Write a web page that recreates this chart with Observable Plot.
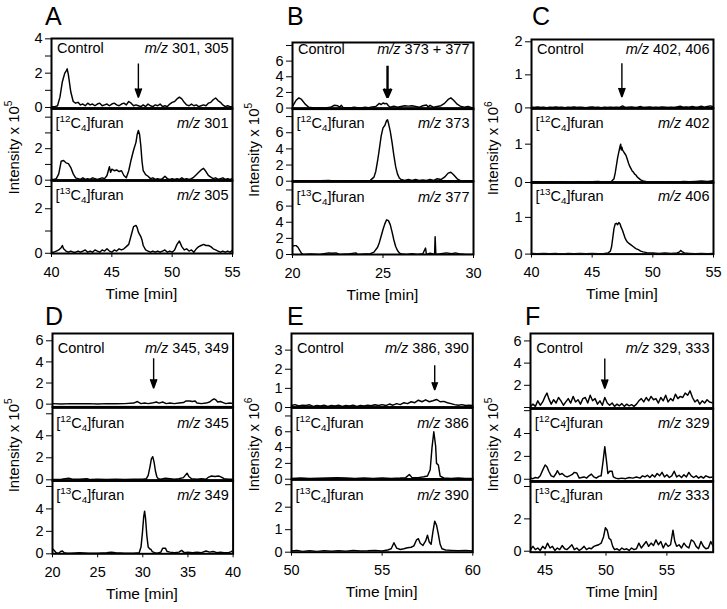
<!DOCTYPE html>
<html><head><meta charset="utf-8">
<script src="https://cdn.jsdelivr.net/npm/d3@7"></script>
<script src="https://cdn.jsdelivr.net/npm/@observablehq/plot@0.6"></script>
<style>
body{margin:0;background:#fff}
#fig{position:relative;width:727px;height:609px;overflow:hidden;background:#fff}
#fig svg{position:absolute}
</style></head><body><div id="fig"></div>
<script>
// ---- data: [time (min), intensity] ----
const A_control = [[40.0,0.05],[40.3,0.05],[40.5,0.1],[40.7,0.6],[40.9,1.5],[41.1,2.0],[41.2,2.1],[41.3,2.25],[41.4,1.9],[41.6,0.9],[41.8,0.35],[42.0,0.25],[42.2,0.3],[42.4,0.15],[42.6,0.2],[42.8,0.1],[43.0,0.25],[43.2,0.15],[43.4,0.2],[43.6,0.1],[43.8,0.2],[44.0,0.25],[44.2,0.1],[44.4,0.15],[44.6,0.2],[44.8,0.1],[45.0,0.2],[45.2,0.25],[45.4,0.15],[45.6,0.1],[45.8,0.2],[46.0,0.25],[46.2,0.15],[46.4,0.35],[46.6,0.25],[46.8,0.1],[47.0,0.15],[47.2,0.1],[47.4,0.05],[47.6,0.15],[47.8,0.05],[48.0,0.2],[48.2,0.1],[48.4,0.05],[48.6,0.15],[48.8,0.1],[49.0,0.2],[49.2,0.05],[49.4,0.1],[49.6,0.05],[49.8,0.2],[50.0,0.3],[50.2,0.35],[50.4,0.5],[50.6,0.6],[50.8,0.5],[51.0,0.3],[51.2,0.15],[51.4,0.1],[51.6,0.2],[51.8,0.1],[52.0,0.15],[52.2,0.05],[52.4,0.1],[52.6,0.15],[52.8,0.1],[53.0,0.25],[53.2,0.3],[53.4,0.45],[53.6,0.55],[53.8,0.4],[54.0,0.3],[54.2,0.15],[54.4,0.05],[54.6,0.1],[54.8,0.05],[55.0,0.05]];
const A_12C = [[40.0,0.05],[40.2,0.05],[40.4,0.1],[40.6,0.4],[40.8,1.2],[41.0,1.25],[41.2,1.1],[41.4,1.05],[41.6,0.8],[41.8,0.4],[42.0,0.15],[42.2,0.1],[42.4,0.05],[42.6,0.15],[42.8,0.05],[43.0,0.1],[43.2,0.05],[43.4,0.15],[43.6,0.1],[43.8,0.05],[44.0,0.1],[44.2,0.15],[44.4,0.1],[44.6,0.3],[44.8,0.85],[44.9,0.5],[45.0,0.7],[45.2,0.6],[45.4,0.65],[45.6,0.55],[45.8,0.6],[46.0,0.3],[46.2,0.15],[46.4,0.6],[46.6,1.3],[46.8,1.9],[47.0,2.4],[47.1,2.9],[47.2,3.15],[47.3,2.9],[47.4,2.2],[47.5,1.2],[47.6,0.6],[47.8,0.35],[48.0,0.25],[48.2,0.1],[48.4,0.15],[48.6,0.05],[48.8,0.1],[49.0,0.05],[49.2,0.1],[49.4,0.25],[49.6,0.1],[49.8,0.05],[50.0,0.1],[50.2,0.05],[50.4,0.1],[50.6,0.05],[50.8,0.15],[51.0,0.05],[51.2,0.1],[51.4,0.05],[51.6,0.1],[51.8,0.2],[52.0,0.35],[52.2,0.5],[52.4,0.65],[52.6,0.75],[52.8,0.55],[53.0,0.3],[53.2,0.2],[53.4,0.1],[53.6,0.15],[53.8,0.05],[54.0,0.1],[54.2,0.15],[54.4,0.05],[54.6,0.1],[54.8,0.05],[55.0,0.1]];
const A_13C = [[40.0,0.05],[40.2,0.05],[40.4,0.1],[40.6,0.15],[40.8,0.25],[40.9,0.35],[41.0,0.2],[41.2,0.1],[41.4,0.05],[41.6,0.1],[41.8,0.05],[42.0,0.05],[42.2,0.1],[42.4,0.05],[42.6,0.1],[42.8,0.15],[43.0,0.05],[43.2,0.1],[43.4,0.05],[43.6,0.15],[43.8,0.1],[44.0,0.05],[44.2,0.15],[44.4,0.1],[44.6,0.2],[44.8,0.1],[45.0,0.05],[45.2,0.15],[45.4,0.1],[45.6,0.2],[45.8,0.15],[46.0,0.2],[46.2,0.3],[46.4,0.4],[46.6,0.8],[46.8,1.2],[47.0,1.25],[47.1,1.15],[47.2,0.95],[47.4,0.75],[47.5,0.6],[47.6,0.35],[47.8,0.15],[48.0,0.1],[48.2,0.05],[48.4,0.1],[48.6,0.05],[48.8,0.1],[49.0,0.05],[49.2,0.1],[49.4,0.15],[49.6,0.05],[49.8,0.1],[50.0,0.05],[50.2,0.15],[50.4,0.4],[50.6,0.55],[50.8,0.3],[51.0,0.15],[51.2,0.2],[51.4,0.1],[51.6,0.15],[51.8,0.05],[52.0,0.2],[52.2,0.3],[52.4,0.35],[52.6,0.4],[52.8,0.35],[53.0,0.35],[53.2,0.3],[53.4,0.2],[53.6,0.15],[53.8,0.1],[54.0,0.05],[54.2,0.1],[54.4,0.05],[54.6,0.1],[54.8,0.05],[55.0,0.15]];

const B_control = [[20.0,0.2],[20.1,0.6],[20.2,1.0],[20.35,1.3],[20.5,1.1],[20.7,0.5],[20.9,0.1],[21.1,0.05],[21.3,0],[21.5,0.05],[21.7,0],[21.9,0.05],[22.1,0.1],[22.3,0.35],[22.5,0.3],[22.6,0.1],[22.7,0.35],[22.8,0.05],[23.0,0.05],[23.2,0],[23.4,0.1],[23.6,0.05],[23.8,0],[24.0,0.1],[24.2,0.05],[24.4,0.15],[24.6,0.2],[24.8,0.6],[24.9,0.45],[25.0,0.65],[25.1,0.55],[25.2,0.6],[25.3,0.3],[25.4,0.1],[25.6,0.25],[25.8,0.1],[26.0,0.2],[26.2,0.3],[26.4,0.25],[26.6,0.3],[26.8,0.2],[27.0,0.1],[27.2,0.3],[27.4,0.4],[27.5,0.15],[27.6,0.35],[27.8,0.1],[28.0,0.2],[28.2,0.3],[28.4,0.6],[28.6,1.1],[28.75,1.3],[28.9,1.0],[29.1,0.5],[29.3,0.2],[29.5,0.1],[29.7,0.2],[29.9,0.05],[30.0,0.05]];
const B_12C = [[20.0,0],[20.5,0.05],[21.0,0],[21.5,0.05],[22.0,0.1],[22.5,0],[23.0,0.05],[23.5,0],[24.0,0.05],[24.3,0.1],[24.5,0.5],[24.6,1.2],[24.7,2.5],[24.8,4.0],[24.9,5.6],[25.0,6.6],[25.1,6.9],[25.2,7.5],[25.25,7.6],[25.3,7.2],[25.4,6.2],[25.5,4.8],[25.6,3.2],[25.7,1.8],[25.8,0.9],[25.9,0.4],[26.0,0.2],[26.2,0.1],[26.4,0.2],[26.6,0.1],[26.8,0.2],[27.0,0.1],[27.2,0.15],[27.4,0.1],[27.6,0.2],[27.8,0.1],[28.0,0.3],[28.2,0.2],[28.4,0.5],[28.6,1.0],[28.75,1.1],[28.9,0.8],[29.1,0.3],[29.3,0.05],[29.5,0],[30.0,0]];
const B_13C = [[20.0,1.0],[20.1,1.1],[20.2,1.1],[20.3,0.9],[20.4,0.5],[20.5,0.15],[20.6,0],[21.0,0.05],[21.5,0],[22.0,0.2],[22.2,0.15],[22.4,0.2],[22.6,0],[23.0,0.05],[23.5,0.2],[23.6,0],[24.0,0.05],[24.3,0.1],[24.5,0.3],[24.7,0.9],[24.8,1.5],[24.9,2.3],[25.0,3.1],[25.1,3.8],[25.2,4.3],[25.3,4.2],[25.4,3.7],[25.5,2.8],[25.6,1.8],[25.7,1.0],[25.8,0.5],[25.9,0.2],[26.0,0.05],[26.3,0],[26.6,0.1],[26.9,0],[27.2,0.1],[27.35,0.8],[27.4,0],[27.6,0.15],[27.85,0],[27.88,2.2],[27.92,0],[28.2,0.1],[28.5,0.2],[28.8,0.1],[29.0,0.2],[29.3,0.05],[29.6,0],[30.0,0]];

const C_control = [[40,0.02],[40.25,0.01],[40.5,0.03],[40.75,0.01],[41,0.02],[41.25,0],[41.5,0.02],[41.75,0.01],[42,0.03],[42.25,0.01],[42.5,0.02],[42.75,0],[43,0.02],[43.25,0.01],[43.5,0.03],[43.75,0.01],[44,0.02],[44.25,0.01],[44.5,0],[44.75,0.02],[45,0.03],[45.25,0.01],[45.5,0.02],[45.75,0],[46,0.02],[46.25,0.01],[46.5,0.02],[46.75,0.01],[47,0.02],[47.25,0.01],[47.5,0.06],[47.75,0.01],[48,0.02],[48.25,0.03],[48.5,0.01],[48.75,0.02],[49,0.04],[49.25,0.01],[49.5,0.02],[49.75,0.03],[50,0.01],[50.25,0.02],[50.5,0.01],[50.75,0.03],[51,0.02],[51.25,0.01],[51.5,0.02],[51.75,0.01],[52,0.03],[52.25,0.05],[52.5,0.02],[52.75,0.03],[53,0.02],[53.25,0.04],[53.5,0.02],[53.75,0.03],[54,0.05],[54.25,0.02],[54.5,0.04],[54.75,0.06],[55,0.03]];
const C_12C = [[40,0.01],[40.5,0.02],[41,0],[41.5,0.02],[42,0.01],[42.5,0.02],[43,0.01],[43.5,0],[44,0.02],[44.5,0.01],[45,0.02],[45.5,0.03],[46,0.01],[46.4,0.02],[46.6,0.03],[46.8,0.1],[46.9,0.25],[47.0,0.45],[47.1,0.65],[47.2,0.8],[47.3,0.95],[47.35,1.0],[47.4,0.85],[47.45,0.92],[47.5,0.85],[47.6,0.8],[47.7,0.75],[47.8,0.7],[47.9,0.6],[48.0,0.5],[48.1,0.42],[48.2,0.36],[48.3,0.3],[48.4,0.27],[48.5,0.22],[48.6,0.2],[48.7,0.15],[48.8,0.12],[49.0,0.07],[49.2,0.04],[49.5,0.02],[50,0.01],[50.5,0.02],[51,0.01],[51.5,0.02],[52,0.01],[52.5,0.03],[53,0.02],[53.5,0.03],[54,0.04],[54.5,0.03],[55,0.05]];
const C_13C = [[40,0.02],[40.5,0.01],[41,0.02],[41.5,0.01],[42,0.02],[42.5,0],[43,0.02],[43.5,0.01],[44,0.02],[44.5,0.01],[45,0.02],[45.5,0.01],[46,0.02],[46.3,0.03],[46.5,0.08],[46.6,0.2],[46.7,0.45],[46.8,0.7],[46.9,0.82],[47.0,0.84],[47.1,0.8],[47.2,0.86],[47.3,0.82],[47.4,0.72],[47.5,0.65],[47.6,0.55],[47.7,0.45],[47.8,0.38],[47.9,0.33],[48.0,0.3],[48.2,0.25],[48.4,0.2],[48.6,0.15],[48.8,0.12],[49.0,0.08],[49.2,0.06],[49.5,0.04],[50,0.03],[50.5,0.02],[51,0.03],[51.5,0.02],[52,0.03],[52.2,0.06],[52.3,0.1],[52.4,0.07],[52.6,0.03],[53,0.02],[53.5,0.01],[54,0.02],[54.5,0.01],[55,0.02]];

const D_control = [[20,0.05],[21,0.02],[22,0.05],[23,0.03],[24,0.05],[25,0.02],[26,0.05],[27,0.03],[28,0.05],[29,0.1],[29.4,0.25],[29.8,0.05],[30.2,0.1],[30.6,0.05],[31,0.1],[31.5,0.2],[31.8,0.1],[32.2,0.2],[32.6,0.05],[33,0.1],[33.5,0.05],[34,0.1],[34.5,0.15],[34.8,0.3],[35.2,0.3],[35.5,0.25],[35.8,0.3],[36,0.1],[36.5,0.05],[37,0.1],[37.4,0.2],[37.7,0.4],[37.9,0.5],[38.1,0.4],[38.3,0.2],[38.6,0.25],[38.9,0.15],[39.2,0.05],[39.6,0.1],[40,0.05]];
const D_12C = [[20,0.02],[21,0.05],[21.8,0.15],[22.2,0.05],[23,0.05],[23.8,0.1],[24.2,0.02],[25,0.05],[26,0.02],[27,0.05],[28,0.02],[29,0.05],[30,0.05],[30.4,0.1],[30.6,0.4],[30.8,1.2],[30.95,1.9],[31.1,2.1],[31.25,1.6],[31.4,0.8],[31.55,0.3],[31.7,0.1],[32,0.05],[32.5,0.15],[33,0.1],[33.5,0.05],[34,0.1],[34.5,0.2],[34.7,0.4],[34.9,0.6],[35.1,0.3],[35.4,0.1],[36,0.05],[36.5,0.1],[37,0.05],[37.3,0.25],[37.6,0.35],[38,0.3],[38.4,0.35],[38.7,0.25],[39,0.1],[39.5,0.05],[40,0.05]];
const D_13C = [[20,0.45],[20.2,0.3],[20.4,0.1],[20.7,0.05],[20.9,0.2],[21.1,0.25],[21.3,0.1],[21.6,0.05],[22,0.05],[23,0.1],[24,0.05],[25,0.05],[26,0.1],[26.5,0.15],[27,0.1],[28,0.05],[29,0.05],[29.6,0.1],[29.8,0.6],[29.95,1.8],[30.1,3.3],[30.2,3.8],[30.3,3.2],[30.45,1.6],[30.6,0.6],[30.75,0.45],[30.9,0.4],[31.05,0.2],[31.3,0.1],[31.6,0.05],[32,0.15],[32.2,0.5],[32.5,0.5],[32.7,0.2],[33,0.15],[33.5,0.1],[34,0.15],[34.3,0.3],[34.6,0.1],[35,0.15],[35.5,0.1],[36,0.15],[36.5,0.1],[37,0.25],[37.4,0.15],[37.8,0.2],[38.2,0.1],[38.6,0.15],[39,0.1],[39.5,0.1],[39.8,0.2],[40,0.3]];

const E_control = [[50,0.1],[50.2,0.15],[50.4,0.08],[50.6,0.12],[50.8,0.1],[51,0.14],[51.2,0.06],[51.4,0.1],[51.6,0.08],[51.8,0.12],[52,0.06],[52.2,0.1],[52.4,0.08],[52.6,0.12],[52.8,0.05],[53,0.1],[53.2,0.08],[53.4,0.12],[53.6,0.06],[53.8,0.1],[54,0.08],[54.2,0.12],[54.4,0.09],[54.6,0.14],[54.8,0.1],[55,0.15],[55.2,0.1],[55.4,0.18],[55.6,0.12],[55.8,0.2],[56,0.15],[56.2,0.25],[56.4,0.2],[56.6,0.3],[56.8,0.25],[57,0.38],[57.2,0.3],[57.4,0.4],[57.6,0.3],[57.8,0.35],[58,0.42],[58.2,0.3],[58.4,0.32],[58.6,0.25],[58.8,0.2],[59,0.15],[59.2,0.12],[59.4,0.15],[59.6,0.1],[59.8,0.12],[60,0.1]];
const E_12C = [[50,0.1],[50.5,0.15],[51,0.1],[51.5,0.12],[52,0.15],[52.5,0.2],[53,0.15],[53.5,0.1],[54,0.15],[54.5,0.1],[55,0.15],[55.5,0.1],[56,0.15],[56.3,0.2],[56.5,0.6],[56.65,0.2],[57,0.2],[57.3,0.3],[57.5,0.4],[57.65,1.2],[57.75,4.0],[57.85,6.0],[57.95,4.2],[58.0,2.0],[58.1,1.8],[58.2,0.4],[58.4,0.15],[58.8,0.1],[59.2,0.15],[59.6,0.1],[60,0.1]];
const E_13C = [[50,0.05],[50.3,0.08],[50.6,0.03],[51,0.06],[51.4,0.03],[51.8,0.07],[52.2,0.04],[52.6,0.06],[53,0.04],[53.4,0.08],[53.8,0.05],[54.2,0.06],[54.6,0.08],[55,0.05],[55.3,0.1],[55.5,0.15],[55.65,0.42],[55.8,0.18],[56,0.12],[56.2,0.15],[56.4,0.2],[56.6,0.22],[56.75,0.28],[56.9,0.55],[57.0,0.6],[57.1,0.4],[57.25,0.3],[57.4,0.5],[57.5,0.75],[57.6,0.45],[57.7,0.35],[57.8,0.9],[57.9,1.38],[58.0,1.2],[58.1,0.8],[58.2,0.35],[58.3,0.15],[58.5,0.1],[58.8,0.08],[59.2,0.06],[59.6,0.08],[60,0.05]];

const F_control = [[43.8,0.1],[44.0,0.3],[44.2,0.1],[44.4,0.6],[44.6,0.2],[44.8,0.5],[45.0,1.0],[45.15,1.3],[45.3,0.8],[45.5,0.3],[45.7,0.7],[45.9,0.4],[46.1,0.9],[46.3,0.6],[46.5,0.2],[46.7,0.5],[46.9,0.8],[47.1,0.4],[47.3,1.0],[47.5,0.5],[47.7,0.7],[47.9,0.3],[48.1,0.8],[48.3,0.9],[48.5,0.4],[48.7,1.1],[48.9,0.6],[49.1,0.8],[49.3,0.3],[49.5,0.6],[49.7,0.2],[49.9,0.9],[50.1,0.4],[50.3,0.2],[50.5,0.4],[50.7,0.1],[50.9,0.3],[51.1,0.15],[51.3,0.35],[51.5,0.1],[51.7,0.3],[51.9,0.15],[52.1,0.25],[52.3,0.1],[52.5,0.3],[52.7,0.6],[52.9,0.8],[53.1,0.5],[53.3,0.9],[53.5,0.6],[53.7,1.0],[53.9,0.7],[54.1,0.8],[54.3,0.4],[54.5,0.9],[54.7,0.6],[54.9,1.1],[55.1,0.5],[55.3,0.8],[55.5,0.6],[55.7,1.2],[55.9,0.8],[56.1,1.0],[56.3,0.9],[56.5,1.3],[56.7,1.1],[56.9,1.5],[57.1,0.9],[57.3,0.5],[57.5,0.7],[57.7,0.3],[57.9,0.6],[58.1,0.4],[58.3,0.7],[58.5,0.5],[58.8,0.4]];
const F_12C = [[43.8,0.1],[44.0,0.05],[44.2,0.15],[44.4,0.1],[44.6,0.3],[44.8,0.8],[45.0,1.25],[45.15,1.1],[45.3,0.7],[45.5,0.3],[45.7,0.2],[45.9,0.5],[46.0,0.75],[46.2,0.4],[46.4,0.5],[46.6,0.3],[46.8,0.2],[47.0,0.3],[47.2,0.4],[47.4,0.6],[47.6,0.55],[47.8,0.1],[48.0,0.15],[48.2,0.2],[48.4,0.1],[48.6,0.3],[48.8,0.45],[49.0,0.2],[49.2,0.1],[49.4,0.25],[49.6,0.3],[49.75,1.5],[49.9,2.85],[50.05,1.5],[50.15,0.5],[50.3,0.7],[50.5,0.7],[50.6,0.2],[50.8,0.1],[51.0,0.05],[51.3,0.1],[51.6,0.05],[51.9,0.15],[52.2,0.1],[52.5,0.2],[52.8,0.1],[53.0,0.3],[53.2,0.2],[53.4,0.35],[53.6,0.15],[53.8,0.4],[54.0,0.2],[54.2,0.5],[54.4,0.3],[54.6,0.6],[54.8,0.2],[55.0,0.4],[55.2,0.15],[55.4,0.3],[55.6,0.7],[55.8,0.2],[56.0,0.35],[56.2,0.15],[56.4,0.4],[56.6,0.2],[56.8,0.6],[57.0,0.3],[57.2,0.15],[57.4,0.3],[57.6,0.1],[57.8,0.25],[58.0,0.1],[58.2,0.3],[58.5,0.15],[58.8,0.2]];
const F_13C = [[43.8,0.1],[44.0,0.3],[44.2,0.1],[44.4,0.2],[44.6,0.05],[44.8,0.3],[45.0,0.15],[45.2,0.5],[45.4,0.2],[45.6,0.3],[45.8,0.05],[46.0,0.2],[46.2,0.1],[46.4,0.35],[46.6,0.15],[46.8,0.1],[47.0,0.25],[47.2,0.4],[47.4,0.1],[47.6,0.2],[47.8,0.05],[48.0,0.15],[48.2,0.3],[48.4,0.1],[48.6,0.2],[48.8,0.15],[49.0,0.3],[49.2,0.35],[49.4,0.4],[49.6,0.5],[49.8,0.9],[49.95,1.45],[50.1,1.3],[50.25,0.8],[50.4,0.7],[50.55,0.3],[50.7,0.1],[50.9,0.15],[51.1,0.05],[51.3,0.2],[51.5,0.1],[51.7,0.15],[51.9,0.05],[52.1,0.2],[52.3,0.1],[52.5,0.15],[52.7,0.5],[52.9,0.2],[53.1,0.4],[53.3,0.6],[53.5,0.3],[53.7,0.5],[53.9,0.35],[54.1,0.7],[54.3,0.4],[54.5,0.6],[54.7,0.2],[54.9,0.5],[55.1,0.3],[55.3,0.4],[55.5,1.3],[55.65,0.6],[55.8,0.3],[56.0,0.4],[56.2,0.2],[56.4,0.5],[56.6,0.3],[56.8,0.2],[57.0,0.7],[57.2,0.6],[57.4,0.3],[57.6,0.15],[57.8,0.6],[58.0,0.3],[58.2,0.15],[58.4,0.2],[58.6,0.6],[58.8,0.3]];

// arrows marking the expected retention time (time, arrow top, arrow tip) in the control trace
const arrows = {A:[47.2,2.56,0.58], B:[25.25,5.4,1.35], C:[47.45,1.35,0.33], D:[31.2,4.35,1.51], E:[57.9,2.21,0.91], F:[49.9,4.41,1.71]};

// labels
const panelLetters = ["A","B","C","D","E","F"];
const mzLabels = {
  A:["301, 305","301","305"], B:["373 + 377","373","377"], C:["402, 406","402","406"],
  D:["345, 349","345","349"], E:["386, 390","386","390"], F:["329, 333","329","333"]
};
const exponents = {A:5,B:5,C:6,D:5,E:6,F:5};
const xTicks = {A:[40,45,50,55],B:[20,25,30],C:[40,45,50,55],D:[20,25,30,35,40],E:[50,55,60],F:[45,50,55]};
const yTicks = {
  A:[[0,1,2,3,4],[0,1,2,3,4],[0,1,2,3]], B:[[0,2,4,6,8],[0,2,4,6,8],[0,2,4,6,8]], C:[[0,1,2],[0,1],[0,1]],
  D:[[0,2,4,6],[0,2,4,6],[0,2,4,6]], E:[[0,1,2,3],[0,2,4,6,8],[0,1,2,3]], F:[[0,2,4,6],[0,2,4,6],[0,2,4]]
};
const yHidden = {
  A:[[1,3],[1,3,4],[1,3]], B:[[8],[8],[8]], C:[[],[],[]], D:[[],[6],[6]], E:[[],[8],[3]], F:[[0],[6],[4]]
};
const traces = {
  A:[A_control,A_12C,A_13C], B:[B_control,B_12C,B_13C], C:[C_control,C_12C,C_13C],
  D:[D_control,D_12C,D_13C], E:[E_control,E_12C,E_13C], F:[F_control,F_12C,F_13C]
};

// ---- layout (pixels) and scale domains ----
const layout = {
  A:{L:51,R:232,rows:[38,108,180,253],x:[40,55],y:[[-0.06,4.02],[-0.02,4.55],[-0.01,3.27]],lab:[15,20,20],letterX:45},
  B:{L:292,R:473,rows:[41.7,108.3,181,254],x:[20,30],y:[[-0.13,8.38],[0,9.0],[0,9.05]],lab:[12.5,20,21],letterX:287,bold:true},
  C:{L:531,R:713,rows:[39.3,107.7,181.7,253.3],x:[40,55],y:[[0,2.07],[0,1.93],[0,1.95]],lab:[15,20,19],letterX:532},
  D:{L:51.7,R:232.3,rows:[333.3,406.7,480,553.3],x:[20,40],y:[[-0.26,6.69],[-0.09,6.57],[0,6.53]],lab:[20,21,20],letterX:45},
  E:{L:291,R:472.3,rows:[333.3,407.3,479,551.7],x:[50,60],y:[[0,3.87],[0,9.07],[0,3.23]],lab:[20,21,21],letterX:287},
  F:{L:530.3,R:713,rows:[333.3,408.3,481,551.7],x:[43.8,58.8],y:[[-0.09,6.67],[-0.17,6.19],[-0.06,4.31]],lab:[20,20,19],letterX:525}
};

const FONT = "'Liberation Sans', Arial, Helvetica, sans-serif";
const fig = document.getElementById("fig");

for (const id of panelLetters) {
  const P = layout[id];
  for (let k = 0; k < 3; k++) {
    const mL = 40, mR = 4, mT = 6, mB = k === 2 ? 30 : 6;
    const top = P.rows[k], bot = P.rows[k + 1];
    const width = (P.R - P.L) + mL + mR;
    const height = (bot - top) + mT + mB;
    const hidden = yHidden[id][k];
    const marks = [
      Plot.line(traces[id][k], {x: d => d[0], y: d => d[1], stroke: "#000", strokeWidth: 1.45, clip: true}),
      Plot.frame({stroke: "#000", strokeWidth: 2})
    ];
    if (k > 0) marks.push(Plot.ruleY([P.y[k][1]], {stroke: "#000", strokeWidth: 2.6}));
    if (k === 0) {
      const a = arrows[id];
      const sw = P.bold ? 2.4 : 1.4;
      marks.push(Plot.arrow([a], {x1: d => d[0], x2: d => d[0], y1: d => d[1], y2: d => d[2],
        stroke: "#000", fill: "#000", strokeWidth: sw, strokeLinecap: "butt",
        headLength: 9.5 * 1.5 / sw, headAngle: P.bold ? 48 : 40}));
    }
    const svg = Plot.plot({
      width, height,
      marginLeft: mL, marginRight: mR, marginTop: mT, marginBottom: mB,
      style: {background: "transparent", overflow: "visible", fontFamily: FONT, fontSize: "14.5px", color: "#000"},
      x: {domain: P.x, axis: k === 2 ? "bottom" : null, ticks: xTicks[id], tickSize: 4, tickPadding: 9, label: null},
      y: {domain: P.y[k], axis: "left", ticks: yTicks[id][k], tickSize: 6, tickPadding: 3, label: null,
          tickFormat: d => hidden.includes(d) ? "" : String(d)},
      marks
    });
    svg.style.left = (P.L - mL) + "px";
    svg.style.top = (top - mT) + "px";
    fig.appendChild(svg);
  }
}

// ---- text overlay ----
const W = 727, H = 609;
const ov = d3.select(fig).append("svg").attr("width", W).attr("height", H)
  .style("left", "0px").style("top", "0px").style("pointer-events", "none")
  .attr("font-family", FONT).attr("fill", "#000");

function rich(sel, segs, size) {
  let shift = 0;
  for (const [txt, kind] of segs) {
    const t = sel.append("tspan").text(txt);
    let target = 0, fs = size;
    if (kind === "sup") { target = -0.42 * size; fs = size * 0.68; }
    if (kind === "sub") { target = 0.22 * size; fs = size * 0.68; }
    if (kind === "small") { fs = size * 0.72; }
    if (kind === "i") t.attr("font-style", "italic");
    t.attr("font-size", fs);
    if (target !== shift) { t.attr("dy", target - shift); shift = target; }
  }
}

for (const id of panelLetters) {
  const P = layout[id];
  const rowTop = P.rows[0] < 200 ? 0 : 300;
  // panel letter
  ov.append("text").attr("x", P.letterX).attr("y", rowTop + 25).attr("font-size", 25).text(id);
  // y title
  const yc = (P.rows[0] + P.rows[3]) / 2 + 2;
  const yx = id === "C" || id === "F" ? 497.8 : (P.L < 100 ? 18.5 : 258.5);
  const yt = ov.append("text").attr("text-anchor", "middle").attr("font-size", 15)
    .attr("transform", `translate(${yx},${yc}) rotate(-90)`);
  rich(yt, [["Intensity x 10", "n"], [String(exponents[id]), "sup"]], 15);
  // x title
  ov.append("text").attr("x", (P.L + P.R) / 2).attr("y", P.rows[3] + 45.5).attr("text-anchor", "middle")
    .attr("font-size", 15.5).text("Time [min]");
  // inner labels
  const names = [
    [["Control", "n"]],
    [["[", "n"], ["12", "sup"], ["C", "n"], ["4", id === "F" ? "small" : "sub"], ["]furan", "n"]],
    [["[", "n"], ["13", "sup"], ["C", "n"], ["4", "sub"], ["]furan", "n"]]
  ];
  for (let k = 0; k < 3; k++) {
    const base = P.rows[k] + P.lab[k];
    const lt = ov.append("text").attr("x", P.L + (k === 0 ? 6 : 4.5)).attr("y", base);
    rich(lt, names[k], 14.5);
    const rt = ov.append("text").attr("x", P.R - 3.5).attr("y", base).attr("text-anchor", "end");
    rich(rt, [["m/z", "i"], [" " + mzLabels[id][k], "n"]], 14.5);
  }
}
</script></body></html>
